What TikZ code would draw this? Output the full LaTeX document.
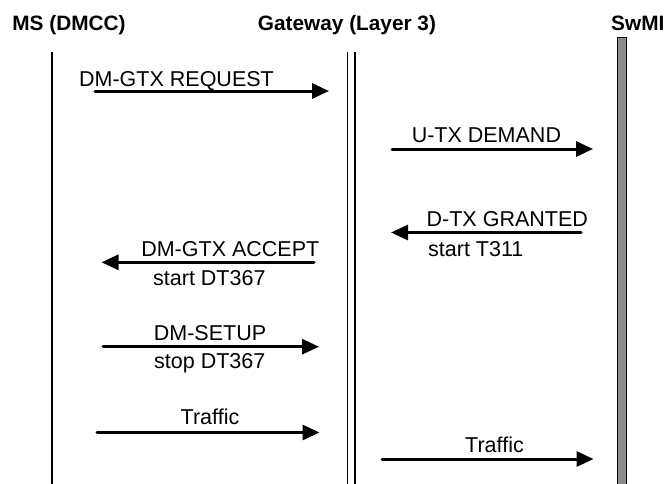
\documentclass[tikz,border=0pt]{standalone}
\usepackage{fontspec}
\setmainfont{Liberation Sans}
\usetikzlibrary{arrows.meta, positioning}

\begin{document}
\begin{tikzpicture}[x=1pt,y=-1pt,
		msg/.style={line width=3pt, line cap=round, -{Triangle[length=17pt,width=15pt]}},
		life/.style={line width=1.1pt},
		lbl/.style={font=\fontsize{21.5}{24}\selectfont, inner sep=0pt, anchor=base},
		hdr/.style={font=\fontsize{20.8}{24}\selectfont\bfseries, inner sep=0pt, anchor=base}]
				\useasboundingbox (0,0) rectangle (664,483);
				% lifelines
				\node[hdr] (ms) at (69,30) {MS (DMCC)};
				\node[hdr] (gw) at (347,30) {Gateway (Layer 3)};
				\node[hdr, anchor=base west] (swmi) at (611,30) {SwMI};
				\coordinate (ms-top) at (52,52);
				\coordinate (ms-bot) at (52,490);
				\coordinate (gw1-top) at (347.5,52);
				\coordinate (gw1-bot) at (347.5,490);
				\coordinate (gw2-top) at (355,52);
				\coordinate (gw2-bot) at (355,490);
				\coordinate (sw-top) at (617,37);
				\coordinate (sw-bot) at (626,490);
				\draw[life] (ms-top) -- (ms-bot);
				\draw[life] (gw1-top) -- (gw1-bot);
				\draw[life] (gw2-top) -- (gw2-bot);
				\draw[line width=1pt, fill=black!45] (sw-top) rectangle (sw-bot);
				% messages
				\coordinate (req-a) at (95,91);
				\coordinate (req-b) at (329,91);
				\coordinate (dem-a) at (392,149);
				\coordinate (dem-b) at (593,149);
				\coordinate (gra-a) at (581,232.5);
				\coordinate (gra-b) at (391,232.5);
				\coordinate (acc-a) at (314,262.3);
				\coordinate (acc-b) at (101.5,262.3);
				\coordinate (set-a) at (103,346.7);
				\coordinate (set-b) at (319,346.7);
				\coordinate (tr1-a) at (97,432.5);
				\coordinate (tr1-b) at (319.5,432.5);
				\coordinate (tr2-a) at (382,459);
				\coordinate (tr2-b) at (593.5,459);
				\path[msg] (req-a) edge (req-b)
					(dem-a) edge (dem-b)
					(gra-a) edge (gra-b)
					(acc-a) edge (acc-b)
					(set-a) edge (set-b)
					(tr1-a) edge (tr1-b)
					(tr2-a) edge (tr2-b);
				% labels
				\node[lbl] (req) at (176.5,86) {DM-GTX REQUEST};
				\node[lbl] (dem) at (486.4,142.7) {U-TX DEMAND};
				\node[lbl] (gra) at (507.3,226.3) {D-TX GRANTED};
				\node[lbl, anchor=base west] (t311) at (428,256) {start T311};
				\node[lbl] (acc) at (230.3,256.7) {DM-GTX ACCEPT};
				\node[lbl, anchor=base west] (dt-start) at (153,285) {start DT367};
				\node[lbl] (set) at (210,340.7) {DM-SETUP};
				\node[lbl, anchor=base west] (dt-stop) at (154,368.5) {stop DT367};
				\node[lbl] (tr1) at (210,424.3) {Traffic};
				\node[lbl] (tr2) at (494.5,452) {Traffic};
			\end{tikzpicture}
\end{document}
